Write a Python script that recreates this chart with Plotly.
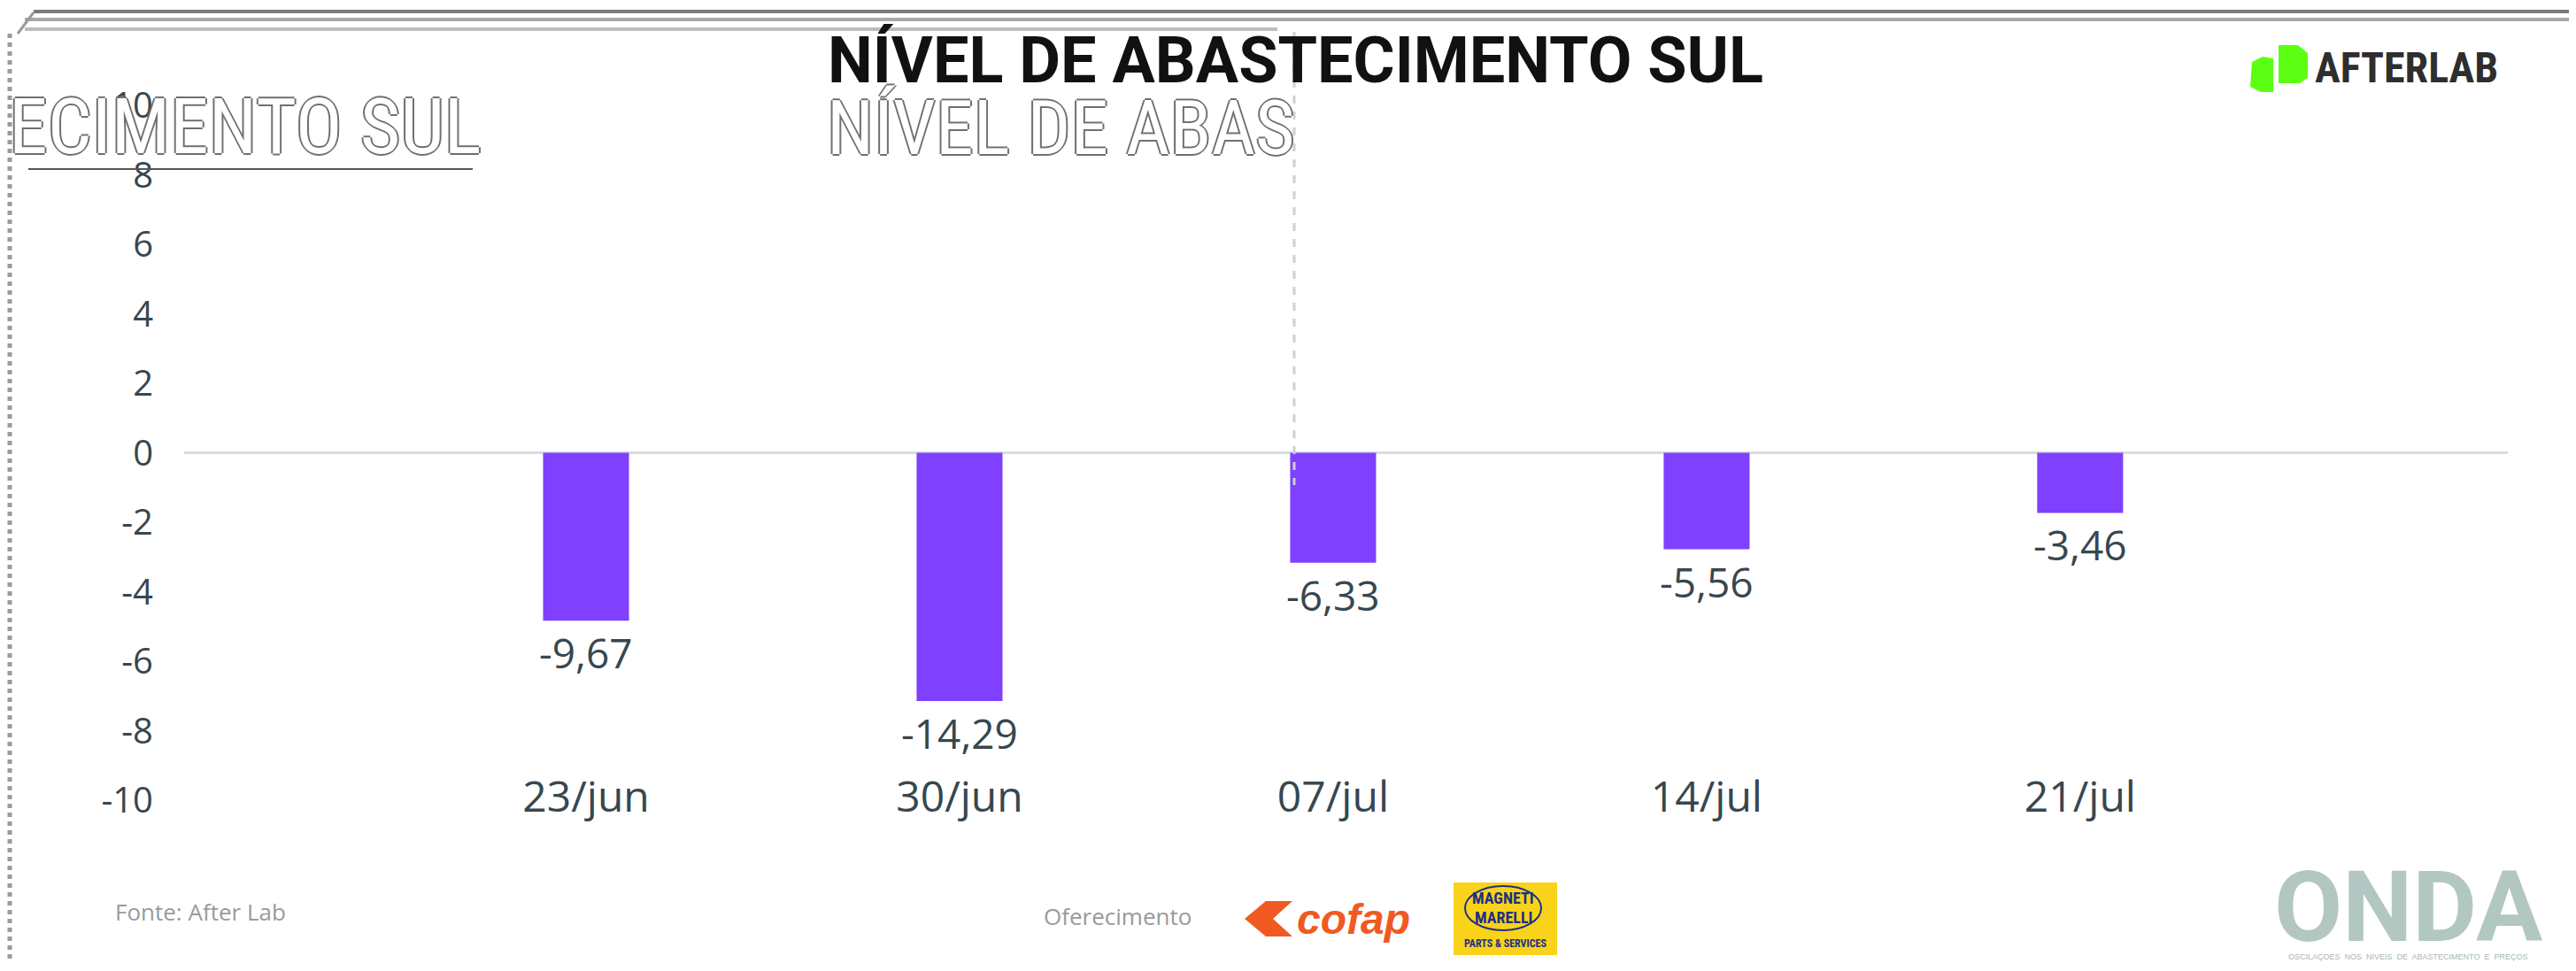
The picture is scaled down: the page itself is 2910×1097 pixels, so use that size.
import plotly.graph_objects as go

# ---------------- data ----------------
categories = ["23/jun", "30/jun", "07/jul", "14/jul", "21/jul"]
values = [-9.67, -14.29, -6.33, -5.56, -3.46]
value_labels = ["-9,67", "-14,29", "-6,33", "-5,56", "-3,46"]
y_tick_labels = ["-10", "-8", "-6", "-4", "-2", "0", "2", "4", "6", "8", "10"]
title_text = "NÍVEL DE ABASTECIMENTO SUL"
source_text = "Fonte: After Lab"
sponsor_text = "Oferecimento"

# ---------------- geometry helpers ----------------
W, H = 2910, 1097
L, R, T, B = 200, 85, 111, 201
PW, PH = W - L - R, H - T - B


def px(x):
    return (x - L) / PW


def py(y):
    return (H - B - y) / PH


# glitched axis: tick labels are drawn at twice their nominal value
y_tick_vals = [2 * float(t) for t in y_tick_labels]

BAR = "#7F40FF"
TXT = "#37474f"
NARROW = "Liberation Sans Narrow, Roboto Condensed, Roboto, sans-serif"

fig = go.Figure()
fig.add_trace(go.Bar(
    x=categories, y=values, width=0.23,
    marker=dict(color=BAR, line=dict(width=0)),
    hoverinfo="skip",
))

annotations = []
for c, v, lab in zip(categories, values, value_labels):
    annotations.append(dict(
        x=c, y=v, xref="x", yref="y", text=lab, showarrow=False,
        yanchor="middle", yshift=-36,
        font=dict(family="Open Sans", size=46, color=TXT),
    ))


def ann(x, y, text, size, color, family="Open Sans", xanchor="center",
        yanchor="middle", shadow=None):
    f = dict(family=family, size=size, color=color)
    if shadow:
        f["shadow"] = shadow
    annotations.append(dict(x=px(x), y=py(y), xref="paper", yref="paper",
                            text=text, showarrow=False, xanchor=xanchor,
                            yanchor=yanchor, font=f))


outline = "2px 0 #6f6f6f, -2px 0 #6f6f6f, 0 2px #6f6f6f, 0 -2px #6f6f6f"
# ghost (glitch) texts
ann(0, 134, "ECIMENTO SUL", 88, "#ffffff", family=NARROW, xanchor="left", shadow=outline)
ann(924, 136, "NÍVEL DE ABAS", 86, "#ffffff", family=NARROW, xanchor="left", shadow=outline)

# title
ann(1455, 60, "<b>" + title_text + "</b>", 72, "#111111", family="Roboto")

# AFTERLAB logo text
ann(2605, 68, "<b>AFTERLAB</b>", 48, "#2e2e2e", family=NARROW, xanchor="left")

# footer texts
ann(120, 1022, source_text, 26, "#9a9a9a", xanchor="left")
ann(1169, 1027, sponsor_text, 26, "#9a9a9a", xanchor="left")
ann(1455, 1030, "<b><i>cofap</i></b>", 48, "#F05A22",
    family="Liberation Sans, Arial, sans-serif", xanchor="left")
ann(1690, 1006, "<b>MAGNETI</b>", 18, "#1d2f86", family=NARROW)
ann(1690, 1028, "<b>MARELLI</b>", 18, "#1d2f86", family=NARROW)
ann(1692, 1058, "<b>PARTS & SERVICES</b>", 12, "#1d2f86", family=NARROW)
ann(2712, 1016, "<b>ONDA</b>", 112, "#b2c7c2", family="Roboto")
ann(2712, 1073, "OSCILAÇOES  NOS  NIVEIS  DE  ABASTECIMENTO  E  PREÇOS", 9,
    "#a7b6b3", family="Liberation Sans, Arial, sans-serif")

shapes = []


def line(x0, y0, x1, y1, color, width, dash="solid"):
    shapes.append(dict(type="line", xref="paper", yref="paper",
                       x0=px(x0), y0=py(y0), x1=px(x1), y1=py(y1),
                       line=dict(color=color, width=width, dash=dash)))


def rect(x0, y0, x1, y1, fill, lc=None, lw=0):
    shapes.append(dict(type="rect", xref="paper", yref="paper",
                       x0=px(x0), y0=py(y0), x1=px(x1), y1=py(y1),
                       fillcolor=fill, line=dict(color=lc or fill, width=lw),
                       layer="above"))


def poly(points, fill):
    d = "M " + " L ".join(f"{px(a):.5f},{py(b):.5f}" for a, b in points) + " Z"
    shapes.append(dict(type="path", xref="paper", yref="paper", path=d,
                       fillcolor=fill, line=dict(width=0), layer="above"))


# card frame (glitchy double lines)
line(30, 5, 2895, 5, "#7a7a7a", 4)
line(20, 14, 2895, 14, "#a8a8a8", 4)
line(20, 25, 1435, 25, "#bdbdbd", 4)
line(2903, 20, 2903, 1085, "#8a8a8a", 4)
line(3, 30, 3, 1080, "#9a9a9a", 5, dash="dot")
line(12, 30, 30, 6, "#9a9a9a", 3)
line(24, 183, 526, 183, "#555555", 2)
# dashed vertical artefact
line(1454, 28, 1454, 540, "#d0d0d0", 3, dash="dash")

# AFTERLAB logo mark
poly([(2536, 62), (2548, 56), (2560, 58), (2560, 96), (2546, 96), (2534, 90)], "#5cff13")
poly([(2566, 43), (2588, 43), (2599, 52), (2599, 80), (2590, 86), (2566, 86)], "#5cff13")

# cofap mark
poly([(1398, 1030), (1422, 1010), (1452, 1010), (1430, 1030), (1452, 1050), (1422, 1050)], "#F05A22")

# Magneti Marelli box
rect(1634, 989, 1751, 1071, "#F9D21A")
shapes.append(dict(type="circle", xref="paper", yref="paper",
                   x0=px(1647), y0=py(993), x1=px(1733), y1=py(1043),
                   line=dict(color="#1d2f86", width=2), layer="above"))

fig.update_layout(
    width=W, height=H,
    margin=dict(l=L, r=R, t=T, b=B, pad=0),
    paper_bgcolor="white", plot_bgcolor="white",
    showlegend=False,
    annotations=annotations,
    shapes=shapes,
    xaxis=dict(
        range=[-1.076, 5.145], showgrid=False, showline=False, zeroline=False,
        ticks="", tickfont=dict(family="Open Sans", size=48, color=TXT),
        ticklabelstandoff=-36, automargin=False,
    ),
    yaxis=dict(
        range=[-20, 20], tickvals=y_tick_vals, ticktext=y_tick_labels,
        showgrid=False, showline=False, ticks="",
        zeroline=True, zerolinecolor="#d6dddd", zerolinewidth=3,
        tickfont=dict(family="Open Sans", size=40, color=TXT),
        ticklabelstandoff=34, automargin=False,
    ),
)

fig.write_html("out.html", config={"displayModeBar": False})
